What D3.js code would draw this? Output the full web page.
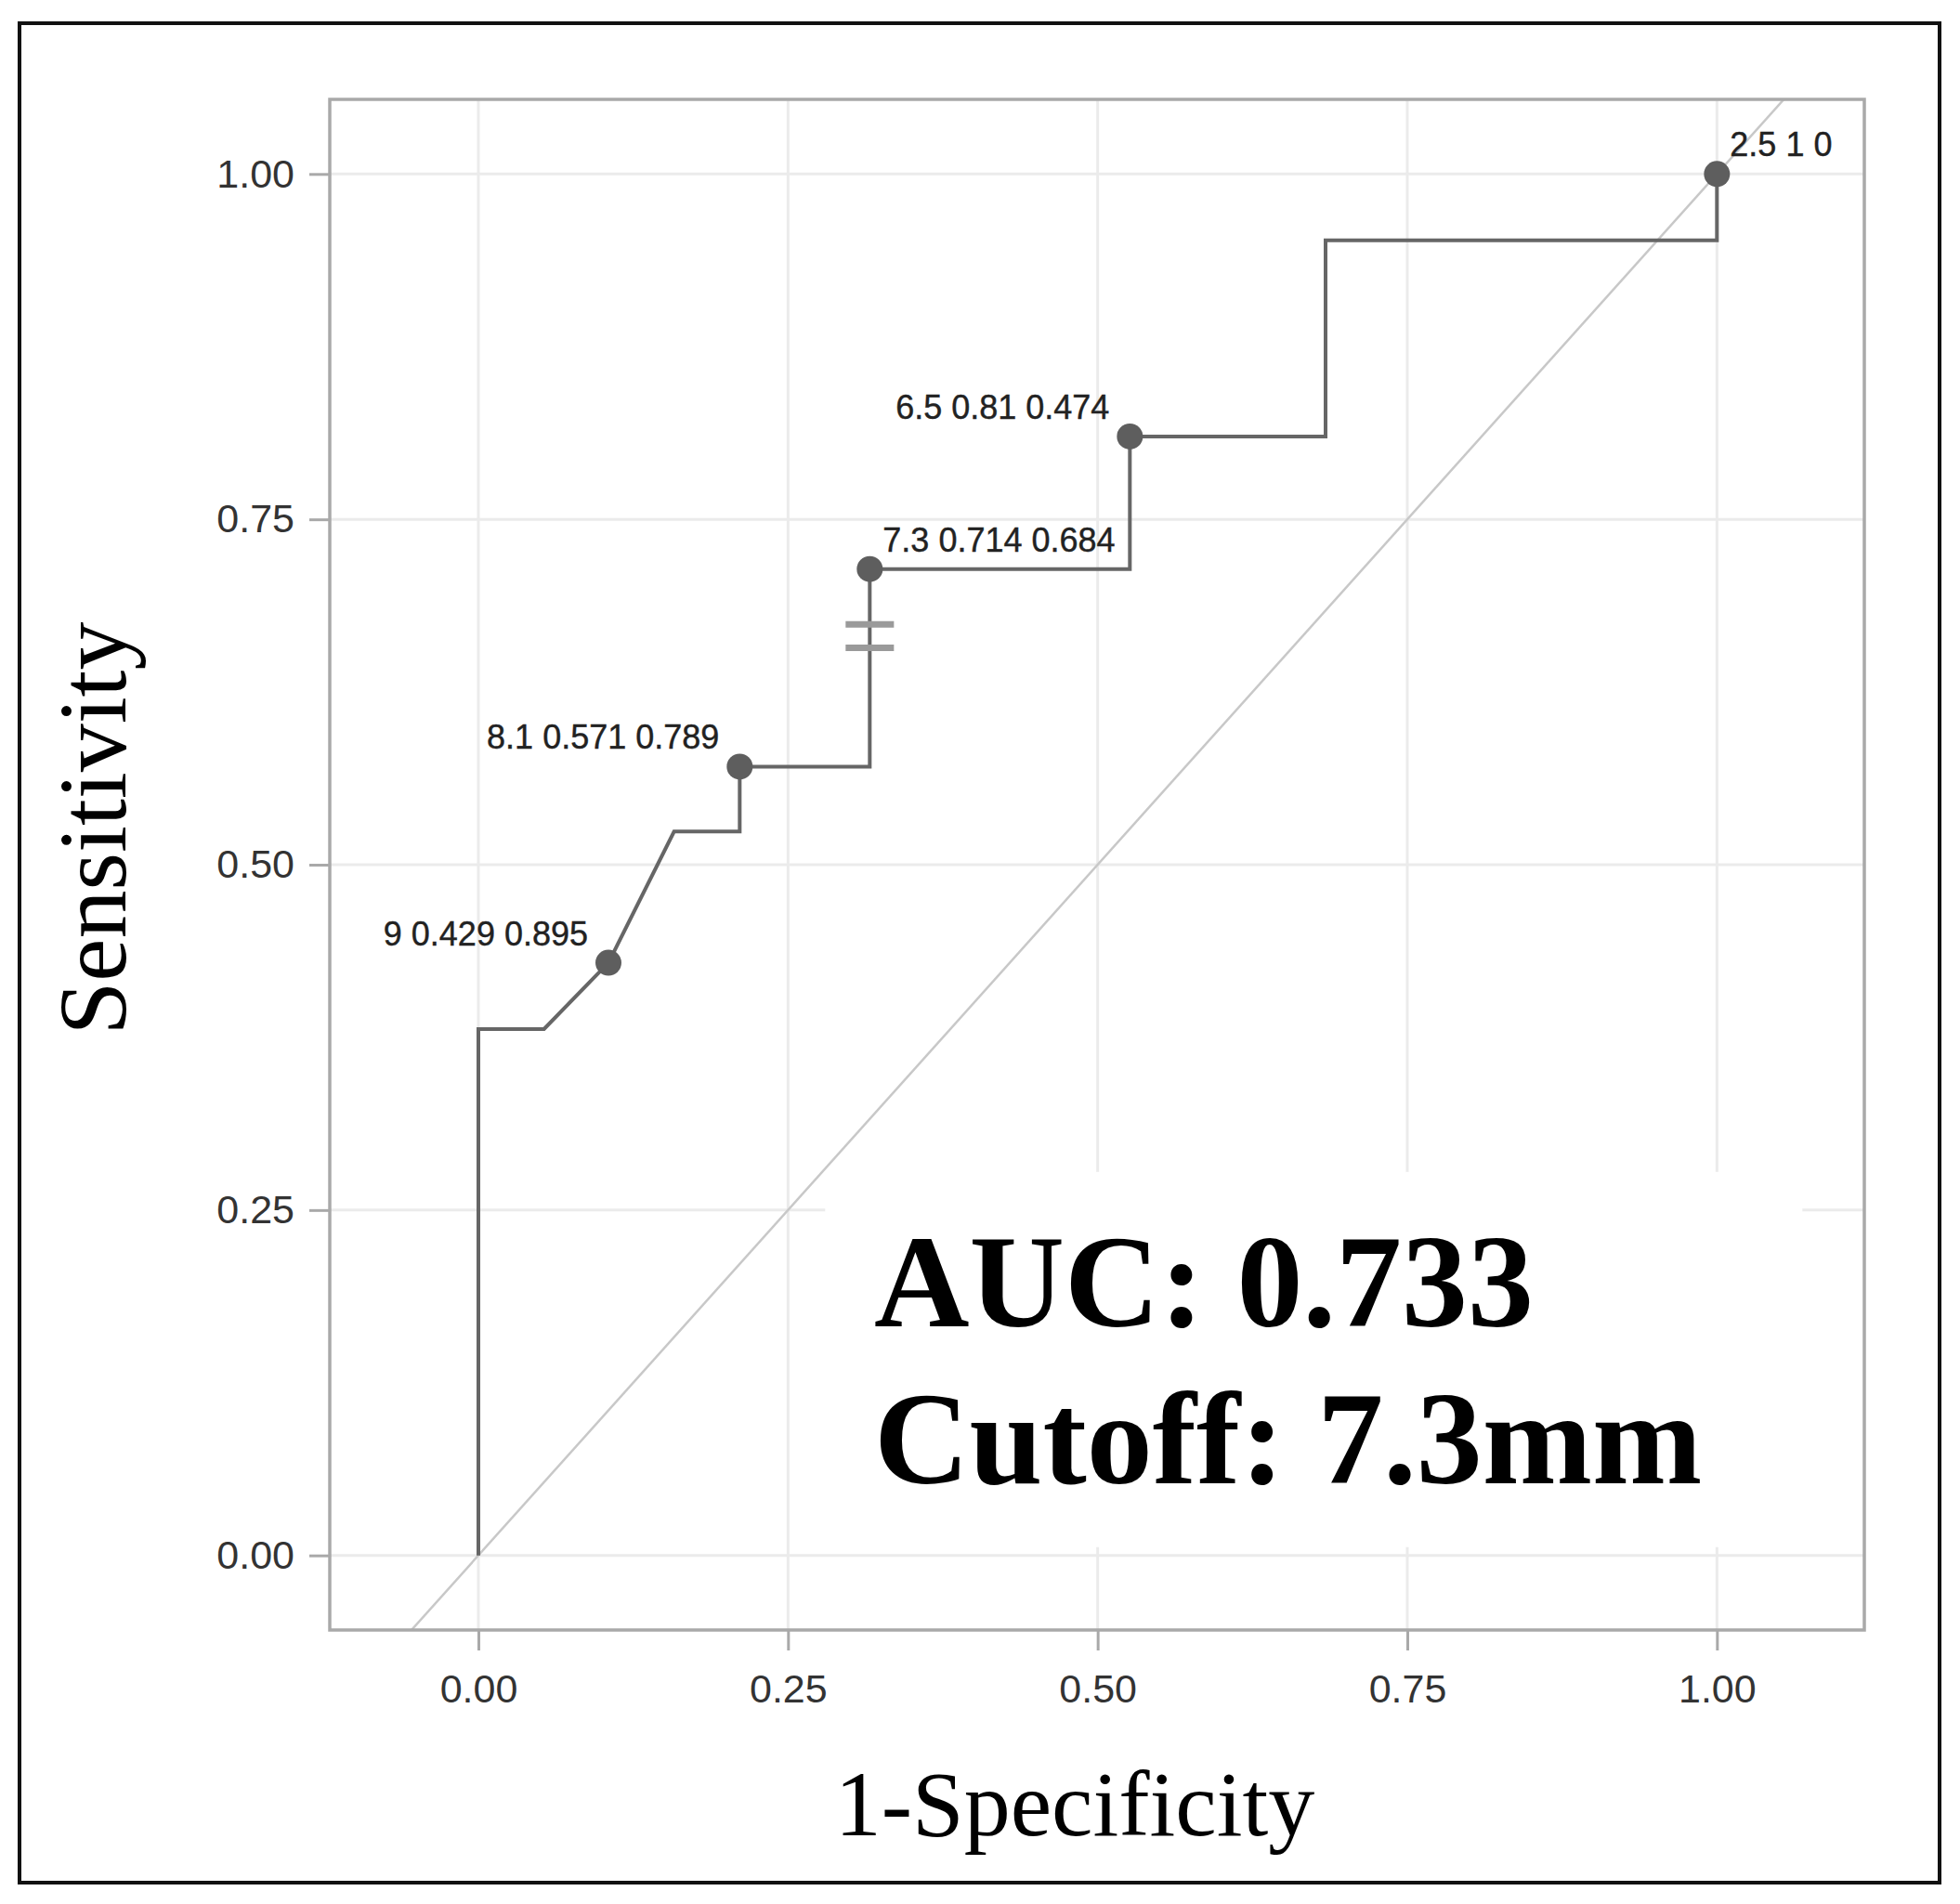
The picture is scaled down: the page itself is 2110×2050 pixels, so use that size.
<!DOCTYPE html>
<html>
<head>
<meta charset="utf-8">
<script src="https://cdn.jsdelivr.net/npm/d3@7"></script>
<style>
  body { margin: 0; background: #fff; }
</style>
</head>
<body>
<div id="chart"></div>
<script>
// ROC curve steps (1-specificity, sensitivity)
const rocFpr = [0, 0, 0.053, 0.105, 0.158, 0.211, 0.211, 0.316, 0.316, 0.526, 0.526, 0.684, 0.684, 1, 1];
const rocTpr = [0, 0.381, 0.381, 0.429, 0.524, 0.524, 0.571, 0.571, 0.714, 0.714, 0.81, 0.81, 0.952, 0.952, 1];

// Labelled thresholds
const cutThreshold = ['9', '8.1', '7.3', '6.5', '2.5'];
const cutSens = [0.429, 0.571, 0.714, 0.81, 1];
const cutSpec = [0.895, 0.789, 0.684, 0.474, 0];
const cutLabelSide = ['left', 'left', 'right', 'left', 'right'];

// Break mark on the cutoff step
const breakX = 0.316;
const breakY = [0.674, 0.657];

const tickValues = [0, 0.25, 0.5, 0.75, 1];
const xTitle = '1-Specificity';
const yTitle = 'Sensitivity';
const annotation = ['AUC: 0.733', 'Cutoff: 7.3mm'];

const W = 2110, H = 2050;
const panel = {left: 355, right: 2007, top: 107, bottom: 1755};

const svg = d3.select('#chart').append('svg')
    .attr('width', W)
    .attr('height', H)
    .attr('viewBox', `0 0 ${W} ${H}`);

// Outer frame
svg.append('rect')
    .attr('x', 21).attr('y', 25)
    .attr('width', 2067).attr('height', 2002)
    .attr('fill', 'white')
    .attr('stroke', '#111')
    .attr('stroke-width', 4);

const x = d3.scaleLinear().domain([-0.12, 1.119]).range([panel.left, panel.right]);
const y = d3.scaleLinear().domain([-0.054, 1.054]).range([panel.bottom, panel.top]);

svg.append('clipPath').attr('id', 'clip')
    .append('rect')
    .attr('x', panel.left).attr('y', panel.top)
    .attr('width', panel.right - panel.left)
    .attr('height', panel.bottom - panel.top);

const plot = svg.append('g').attr('clip-path', 'url(#clip)');

// Grid
plot.selectAll('line.vgrid')
    .data(tickValues).enter()
    .append('line')
    .attr('class', 'vgrid')
    .attr('x1', d => x(d)).attr('x2', d => x(d))
    .attr('y1', panel.top).attr('y2', panel.bottom)
    .attr('stroke', '#ebebeb')
    .attr('stroke-width', 3);

plot.selectAll('line.hgrid')
    .data(tickValues).enter()
    .append('line')
    .attr('class', 'hgrid')
    .attr('x1', panel.left).attr('x2', panel.right)
    .attr('y1', d => y(d)).attr('y2', d => y(d))
    .attr('stroke', '#ebebeb')
    .attr('stroke-width', 3);

// White box behind the annotation
plot.append('rect')
    .attr('x', x(0.28))
    .attr('y', y(0.2776))
    .attr('width', x(1.069) - x(0.28))
    .attr('height', y(0.006) - y(0.2776))
    .attr('fill', 'white');

// Diagonal reference
plot.append('line')
    .attr('x1', x(-0.2)).attr('y1', y(-0.2))
    .attr('x2', x(1.2)).attr('y2', y(1.2))
    .attr('stroke', '#c8c8c8')
    .attr('stroke-width', 2.5);

// ROC curve
const roc = rocFpr.map((f, i) => ({fpr: f, tpr: rocTpr[i]}));
const line = d3.line().x(d => x(d.fpr)).y(d => y(d.tpr));
plot.append('path')
    .datum(roc)
    .attr('d', line)
    .attr('fill', 'none')
    .attr('stroke', '#666')
    .attr('stroke-width', 4)
    .attr('stroke-linejoin', 'miter');

// Break mark
plot.selectAll('line.break')
    .data(breakY).enter()
    .append('line')
    .attr('class', 'break')
    .attr('x1', x(breakX) - 26).attr('x2', x(breakX) + 26)
    .attr('y1', d => y(d)).attr('y2', d => y(d))
    .attr('stroke', '#9a9a9a')
    .attr('stroke-width', 7);

// Cutoff points and labels
const cuts = cutThreshold.map((t, i) => ({
    thr: t, sens: cutSens[i], spec: cutSpec[i], side: cutLabelSide[i]
}));

plot.selectAll('circle.cut')
    .data(cuts).enter()
    .append('circle')
    .attr('class', 'cut')
    .attr('cx', d => x(1 - d.spec))
    .attr('cy', d => y(d.sens))
    .attr('r', 14)
    .attr('fill', '#5e5e5e');

svg.selectAll('text.cutlabel')
    .data(cuts).enter()
    .append('text')
    .attr('class', 'cutlabel')
    .attr('x', d => x(1 - d.spec) + (d.side === 'left' ? -22 : 14))
    .attr('y', d => y(d.sens) - 19)
    .attr('text-anchor', d => d.side === 'left' ? 'end' : 'start')
    .attr('font-family', '"Liberation Sans", Arial, sans-serif')
    .attr('font-size', 36)
    .attr('fill', '#222')
    .attr('stroke', '#222')
    .attr('stroke-width', 0.4)
    .text(d => `${d.thr} ${d.sens} ${d.spec}`);

// Annotation text
svg.selectAll('text.annot')
    .data(annotation).enter()
    .append('text')
    .attr('class', 'annot')
    .attr('x', 941)
    .attr('y', (d, i) => 1428 + i * 169)
    .attr('font-family', '"Liberation Serif", "Times New Roman", serif')
    .attr('font-weight', 'bold')
    .attr('font-size', 142)
    .attr('fill', '#000')
    .text(d => d);

// Panel border
svg.append('rect')
    .attr('x', panel.left).attr('y', panel.top)
    .attr('width', panel.right - panel.left)
    .attr('height', panel.bottom - panel.top)
    .attr('fill', 'none')
    .attr('stroke', '#a9a9a9')
    .attr('stroke-width', 3.5);

// Axes
const fmt = d3.format('.2f');
const xAxis = svg.append('g')
    .attr('transform', `translate(0, ${panel.bottom})`)
    .call(d3.axisBottom(x).tickValues(tickValues).tickFormat(fmt).tickSize(22).tickPadding(25));
const yAxis = svg.append('g')
    .attr('transform', `translate(${panel.left}, 0)`)
    .call(d3.axisLeft(y).tickValues(tickValues).tickFormat(fmt).tickSize(22).tickPadding(16));

[xAxis, yAxis].forEach(a => {
    a.select('.domain').remove();
    a.selectAll('.tick line').attr('stroke', '#a9a9a9').attr('stroke-width', 3);
    a.selectAll('.tick text')
        .attr('font-family', '"Liberation Sans", Arial, sans-serif')
        .attr('font-size', 43)
        .attr('fill', '#333');
});

// Axis titles
svg.append('text')
    .attr('x', 1157)
    .attr('y', 1976)
    .attr('text-anchor', 'middle')
    .attr('font-family', '"Liberation Serif", "Times New Roman", serif')
    .attr('font-size', 100)
    .attr('fill', '#000')
    .text(xTitle);

svg.append('text')
    .attr('transform', 'translate(135, 892) rotate(-90)')
    .attr('text-anchor', 'middle')
    .attr('font-family', '"Liberation Serif", "Times New Roman", serif')
    .attr('font-size', 104)
    .attr('fill', '#000')
    .text(yTitle);
</script>
</body>
</html>
